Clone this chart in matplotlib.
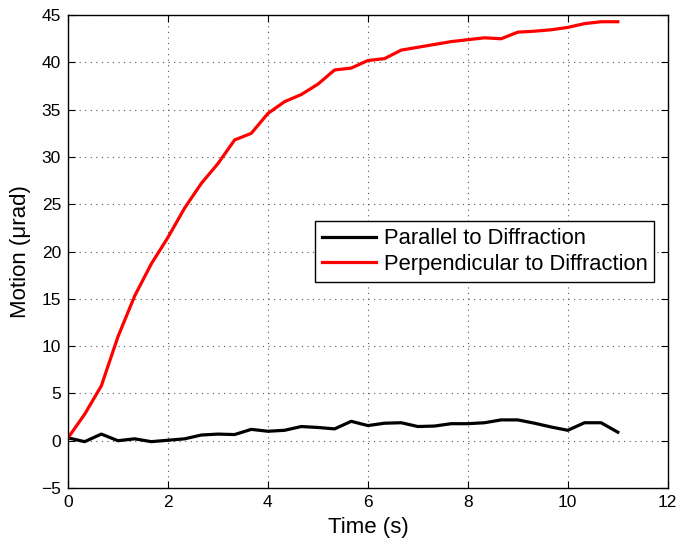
import matplotlib
matplotlib.use("Agg")
import matplotlib.pyplot as plt
import numpy as np

plt.rcParams['font.family'] = ['Liberation Sans', 'DejaVu Sans']

time = [i / 3 for i in range(34)]
parallel = [0.3, -0.1, 0.7, 0.0, 0.2, -0.1, 0.05, 0.2, 0.6, 0.7, 0.65, 1.2, 1.0, 1.1,
            1.5, 1.4, 1.25, 2.05, 1.6, 1.85, 1.9, 1.5, 1.55, 1.8, 1.8, 1.9, 2.2, 2.2,
            1.85, 1.45, 1.1, 1.9, 1.9, 0.9]
perpendicular = [0.3, 2.8, 5.8, 11.0, 15.3, 18.7, 21.5, 24.6, 27.2, 29.3, 31.8, 32.5,
                 34.6, 35.85, 36.6, 37.7, 39.2, 39.4, 40.2, 40.4, 41.3, 41.6, 41.9,
                 42.2, 42.4, 42.6, 42.5, 43.2, 43.3, 43.45, 43.7, 44.1, 44.3, 44.3]
labels = ['Parallel to Diffraction', 'Perpendicular to Diffraction']

fig = plt.figure(figsize=(6.8, 5.4), dpi=100)
ax = fig.add_axes([0.1, 0.0963, 0.882, 0.8757])
ax.plot(time, parallel, color='black', lw=2.3, label=labels[0])
ax.plot(time, perpendicular, color='#ff0000', lw=2.3, label=labels[1])

ax.set_xlim(0, 12)
ax.set_ylim(-5, 45)
ax.set_xticks(np.arange(0, 13, 2))
ax.set_yticks(np.arange(-5, 46, 5))
ax.tick_params(direction='in', top=True, right=True, labelsize=12.5, length=5, width=0.8, pad=5)
ax.grid(True, linestyle=(0, (1, 4)), color='#555555', linewidth=0.8)
for s in ax.spines.values():
    s.set_linewidth(1.0)

ax.set_xlabel('Time (s)', fontsize=16, labelpad=5)
ax.set_ylabel('Motion (μrad)', fontsize=16, labelpad=7)

leg = ax.legend(loc='upper left', bbox_to_anchor=(0.412, 0.564), fontsize=15.8,
                frameon=True, fancybox=False, edgecolor='black', framealpha=1,
                handlelength=2.45, borderpad=0.32, labelspacing=0.2, handletextpad=0.35,
                borderaxespad=0)
leg.get_frame().set_linewidth(1.0)

fig.savefig('out.png', dpi=100)
